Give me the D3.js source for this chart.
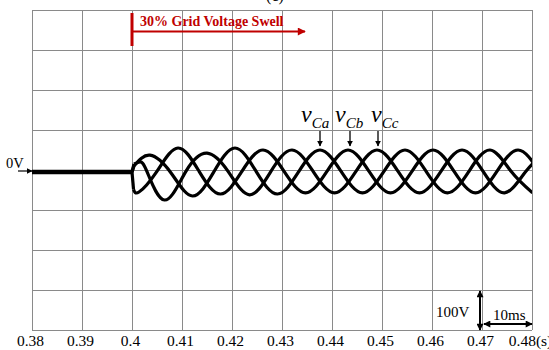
<!DOCTYPE html>
<html>
<head>
<meta charset="utf-8">
<script src="https://cdn.jsdelivr.net/npm/d3@7"></script>
<style>
  html, body { margin: 0; padding: 0; background: #fff; }
  svg { display: block; }
  text { font-family: "Liberation Serif", "DejaVu Serif", serif; }
</style>
</head>
<body>
<svg id="chart" width="549" height="350"></svg>
<script>
// ---- data (time in s, voltage in V) ----
const xTicks = [0.38, 0.39, 0.40, 0.41, 0.42, 0.43, 0.44, 0.45, 0.46, 0.47, 0.48];
const xTickLabels = ["0.38", "0.39", "0.4", "0.41", "0.42", "0.43", "0.44", "0.45", "0.46", "0.47", "0.48(s)"];
const yTicks = [-400, -300, -200, -100, 0, 100, 200, 300, 400];
const seriesNames = ["Ca", "Cb", "Cc"];

const preSwell = [[0.380, -5], [0.400, -5]];

const vCa = [
  [0.40000, -5], [0.40040, 10], [0.40360, 37], [0.40785, -8], [0.41210, -65],
  [0.41635, -5], [0.42060, 55], [0.42485, -4], [0.42910, -60], [0.43335, -4],
  [0.43760, 50], [0.44185, -4], [0.44610, -57], [0.45035, -4], [0.45460, 50],
  [0.45885, -4], [0.46310, -57], [0.46735, -4], [0.47160, 50], [0.47585, -4],
  [0.48010, -57]
];
const vCb = [
  [0.40000, -5], [0.40030, -48], [0.40140, -55], [0.40495, -4], [0.40920, 55],
  [0.41345, -4], [0.41770, -60], [0.42195, -4], [0.42620, 50], [0.43045, -4],
  [0.43470, -57], [0.43895, -4], [0.44320, 50], [0.44745, -4], [0.45170, -57],
  [0.45595, -4], [0.46020, 50], [0.46445, -4], [0.46870, -57], [0.47295, -4],
  [0.47720, 50], [0.48145, -4]
];
const vCc = [
  [0.40000, -5], [0.40040, 15], [0.40160, 20], [0.40300, -4], [0.40650, -75],
  [0.41075, -4], [0.41500, 42], [0.41925, -4], [0.42350, -62], [0.42775, -4],
  [0.43200, 50], [0.43625, -4], [0.44050, -57], [0.44475, -4], [0.44900, 50],
  [0.45325, -4], [0.45750, -57], [0.46175, -4], [0.46600, 50], [0.47025, -4],
  [0.47450, -57], [0.47875, -4], [0.48300, 50]
];
// times marked by the label arrows
const arrowTimes = [0.4376, 0.4436, 0.4492];
const swellStart = 0.40;
const swellEnd = 0.4346;
const swellText = "30% Grid Voltage Swell";

// ---- drawing ----
const svg = d3.select("#chart");
const x = d3.scaleLinear().domain([0.38, 0.48]).range([32, 532]);
const y = d3.scaleLinear().domain([-400, 400]).range([330, 10]);

const defs = svg.append("defs");
defs.append("clipPath").attr("id", "plotclip")
  .append("rect").attr("x", x(0.38)).attr("y", y(400))
  .attr("width", x(0.48) - x(0.38)).attr("height", y(-400) - y(400));
function marker(id, color, w, h) {
  defs.append("marker").attr("id", id)
    .attr("viewBox", "0 0 10 10").attr("refX", 9).attr("refY", 5)
    .attr("markerWidth", w).attr("markerHeight", h)
    .attr("markerUnits", "userSpaceOnUse")
    .attr("orient", "auto-start-reverse")
    .append("path").attr("d", "M0,0L10,5L0,10Z").attr("fill", color);
}
marker("arrBlack", "#000", 8, 7);
marker("arrSmall", "#000", 6, 6);
marker("arrRed", "#c00000", 12, 8);

// grid
const grid = svg.append("g");
grid.selectAll("line.v").data(xTicks).join("line")
  .attr("x1", d => x(d)).attr("x2", d => x(d))
  .attr("y1", y(400)).attr("y2", y(-400))
  .attr("stroke", "#8a8a8a").attr("stroke-width", 1).attr("shape-rendering", "crispEdges");
grid.selectAll("line.h").data(yTicks).join("line")
  .attr("x1", x(0.38)).attr("x2", x(0.48))
  .attr("y1", d => y(d)).attr("y2", d => y(d))
  .attr("stroke", "#8a8a8a").attr("stroke-width", 1).attr("shape-rendering", "crispEdges");

// x axis labels
const xAxis = d3.axisBottom(x).tickValues(xTicks)
  .tickFormat((d, i) => xTickLabels[i]).tickSize(0).tickPadding(0);
const ax = svg.append("g").attr("transform", `translate(0,${y(-400)})`).call(xAxis);
ax.select(".domain").remove();
ax.selectAll("text").attr("font-family", "Liberation Serif, serif")
  .attr("font-size", 15.5).attr("fill", "#000")
  .attr("y", 16).attr("dy", 0).attr("dx", -2);

// traces
const line = d3.line().x(d => x(d[0])).y(d => y(d[1]));
const traces = svg.append("g").attr("clip-path", "url(#plotclip)");
traces.append("path").datum(preSwell)
  .attr("d", line).attr("fill", "none").attr("stroke", "#000").attr("stroke-width", 4.5);
const curveLine = d3.line().x(d => x(d[0])).y(d => y(d[1])).curve(d3.curveNatural);
[vCa, vCb, vCc].forEach(s => {
  traces.append("path").datum(s.slice(0, 2)).attr("d", line)
    .attr("fill", "none").attr("stroke", "#000").attr("stroke-width", 3.2);
  traces.append("path").datum(s.slice(1)).attr("d", curveLine)
    .attr("fill", "none").attr("stroke", "#000").attr("stroke-width", 3.2)
    .attr("stroke-linejoin", "round");
});

// series labels with arrows
const labelOffsets = [-19, -15, -7];
seriesNames.forEach((n, i) => {
  const cx = x(arrowTimes[i]);
  const t = svg.append("text").attr("x", cx + labelOffsets[i]).attr("y", 122)
    .attr("font-style", "italic").attr("fill", "#000");
  t.append("tspan").attr("font-size", 24).text("v");
  t.append("tspan").attr("font-size", 15).attr("dy", 6).text(n);
  svg.append("line").attr("x1", cx).attr("x2", cx).attr("y1", 131).attr("y2", 146)
    .attr("stroke", "#000").attr("stroke-width", 1.3).attr("marker-end", "url(#arrSmall)");
});

// 0V marker
svg.append("text").attr("x", 6).attr("y", 168).attr("font-size", 14.5).attr("fill", "#000").text("0V");
svg.append("line").attr("x1", 18).attr("x2", x(0.38)).attr("y1", 171).attr("y2", 171)
  .attr("stroke", "#000").attr("stroke-width", 1.2).attr("marker-end", "url(#arrSmall)");

// swell annotation
svg.append("line").attr("x1", x(swellStart)).attr("x2", x(swellStart)).attr("y1", 13).attr("y2", 46)
  .attr("stroke", "#c00000").attr("stroke-width", 3);
svg.append("line").attr("x1", x(swellStart)).attr("x2", x(swellEnd)).attr("y1", 31.5).attr("y2", 31.5)
  .attr("stroke", "#c00000").attr("stroke-width", 2.2).attr("marker-end", "url(#arrRed)");
svg.append("text").attr("x", 140).attr("y", 26).attr("font-size", 14).attr("font-weight", "bold")
  .attr("fill", "#c00000").text(swellText);

// title fragment (cut off at top, as in the source figure)
svg.append("text").attr("x", 275).attr("y", 1).attr("text-anchor", "middle")
  .attr("font-size", 16).attr("fill", "#000").text("(c)");

// scale markers
svg.append("line").attr("x1", 480).attr("x2", 480).attr("y1", 310).attr("y2", 291)
  .attr("stroke", "#000").attr("stroke-width", 2).attr("marker-end", "url(#arrBlack)");
svg.append("line").attr("x1", 480).attr("x2", 480).attr("y1", 310).attr("y2", 330)
  .attr("stroke", "#000").attr("stroke-width", 2).attr("marker-end", "url(#arrBlack)");
svg.append("text").attr("x", 436).attr("y", 317).attr("font-size", 15).attr("fill", "#000").text("100V");
svg.append("line").attr("x1", 508).attr("x2", 484).attr("y1", 324).attr("y2", 324)
  .attr("stroke", "#000").attr("stroke-width", 2).attr("marker-end", "url(#arrBlack)");
svg.append("line").attr("x1", 508).attr("x2", 532).attr("y1", 324).attr("y2", 324)
  .attr("stroke", "#000").attr("stroke-width", 2).attr("marker-end", "url(#arrBlack)");
svg.append("text").attr("x", 493).attr("y", 320).attr("font-size", 15).attr("fill", "#000").text("10ms");
</script>
</body>
</html>
